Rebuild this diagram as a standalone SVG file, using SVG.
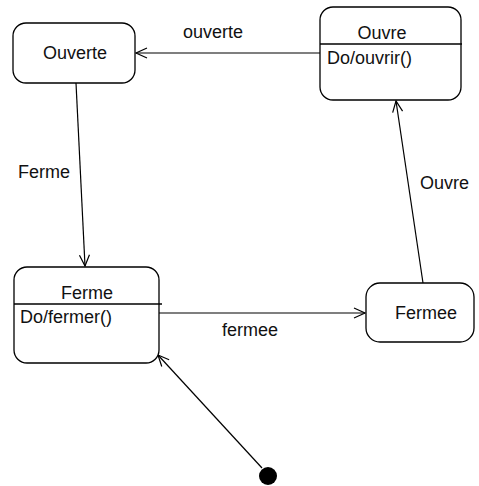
<svg xmlns="http://www.w3.org/2000/svg" width="479" height="486" viewBox="0 0 479 486">
  <style>
    .state { fill: #ffffff; stroke: #000000; stroke-width: 1.3; }
    .divider { stroke: #000000; stroke-width: 1.3; }
    .edge { fill: none; stroke: #000000; stroke-width: 1.2; marker-end: url(#open-arrow); }
    text { font-family: "Liberation Sans", Arial, sans-serif; font-size: 18px; fill: #111111; }
    .center { text-anchor: middle; }
  </style>
  <defs>
    <marker id="open-arrow" markerUnits="userSpaceOnUse" markerWidth="14" markerHeight="14" refX="12" refY="6" orient="auto">
      <path d="M1,1 L12,6 L1,11" fill="none" stroke="#000000" stroke-width="1.2"/>
    </marker>
  </defs>

  <rect width="479" height="486" fill="#ffffff"/>

  <g id="connectors">
    <!-- Ouvre -> Ouverte -->
    <line class="edge" x1="320" y1="53" x2="136" y2="53"/>
    <text x="183" y="38">ouverte</text>
    <!-- Ouverte -> Ferme -->
    <line class="edge" x1="76" y1="83" x2="85" y2="266"/>
    <text x="18" y="178">Ferme</text>
    <!-- Ferme -> Fermee -->
    <line class="edge" x1="159" y1="313" x2="365" y2="313"/>
    <text x="222" y="336">fermee</text>
    <!-- Fermee -> Ouvre -->
    <line class="edge" x1="423" y1="283" x2="396" y2="101"/>
    <text x="420" y="189">Ouvre</text>
    <!-- initial -> Ferme -->
    <line class="edge" x1="262" y1="468" x2="158" y2="355"/>
  </g>

  <g id="state-ouverte">
    <rect class="state" x="13" y="23" width="122" height="60" rx="13" ry="13"/>
    <text class="center" x="75" y="59">Ouverte</text>
  </g>

  <g id="state-ouvre">
    <rect class="state" x="320" y="7" width="141" height="93" rx="13" ry="13"/>
    <line class="divider" x1="320" y1="44" x2="462" y2="44"/>
    <text class="center" x="382" y="39">Ouvre</text>
    <text x="327" y="64">Do/ouvrir()</text>
  </g>

  <g id="state-ferme">
    <rect class="state" x="14" y="267" width="145" height="96" rx="13" ry="13"/>
    <line class="divider" x1="14" y1="304" x2="162" y2="304"/>
    <text class="center" x="87" y="299">Ferme</text>
    <text x="20" y="323">Do/fermer()</text>
  </g>

  <g id="state-fermee">
    <rect class="state" x="366" y="283" width="108" height="59" rx="14" ry="14"/>
    <text class="center" x="426" y="319">Fermee</text>
  </g>

  <g id="initial">
    <circle cx="268" cy="476" r="9" fill="#000000"/>
  </g>
</svg>
